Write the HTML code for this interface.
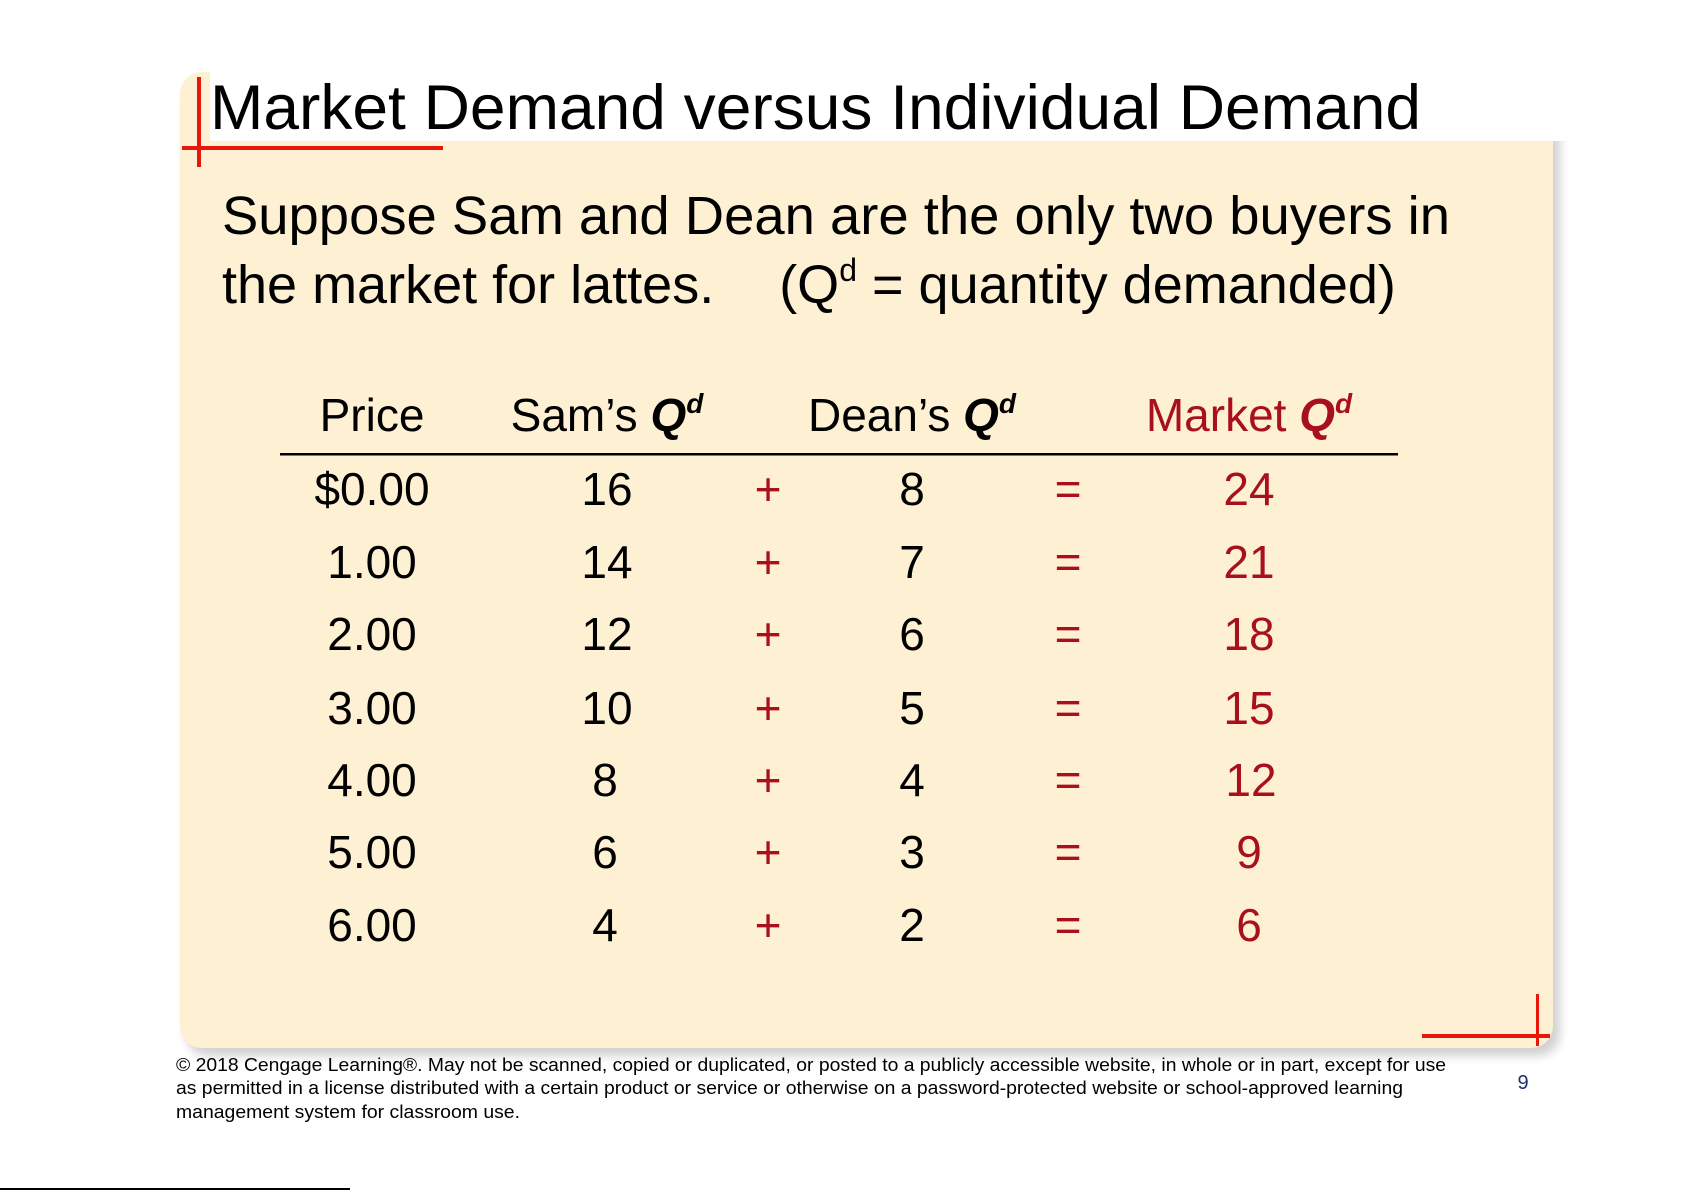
<!DOCTYPE html>
<html><head><meta charset="utf-8"><style>
html,body{margin:0;padding:0;background:#fff;}
svg{display:block;}
text{font-family:"Liberation Sans",Arial,sans-serif;}
</style></head><body>
<svg width="1685" height="1191" viewBox="0 0 1685 1191" xmlns="http://www.w3.org/2000/svg">
<defs>
<filter id="sh" x="-5%" y="-5%" width="115%" height="115%"><feGaussianBlur stdDeviation="5"/></filter>
</defs>
<rect x="186" y="78" width="1374" height="978" rx="22" fill="#000" opacity="0.18" filter="url(#sh)"/>
<rect x="180" y="72" width="1373" height="976" rx="22" fill="#fef1d3"/>
<rect x="210" y="60" width="1360" height="81" fill="#fff"/>
<rect x="197" y="77" width="4" height="90" fill="#e8170c"/>
<rect x="182" y="146" width="261" height="4" fill="#e8170c"/>
<rect x="1536" y="994" width="3" height="52" fill="#e8170c"/>
<rect x="1422" y="1034" width="128" height="4" fill="#e8170c"/>
<text x="210" y="129" font-size="63" textLength="1211" lengthAdjust="spacingAndGlyphs">Market Demand versus Individual Demand</text>
<text x="222" y="234" font-size="54" textLength="1228" lengthAdjust="spacingAndGlyphs">Suppose Sam and Dean are the only two buyers in</text>
<text x="222" y="303" font-size="54">the market for lattes. <tspan dx="50">(Q</tspan><tspan font-size="32" dy="-22">d</tspan><tspan dy="22"> = quantity demanded)</tspan></text>
<g font-size="46" text-anchor="middle">
<text x="372" y="431">Price</text>
<text x="607" y="431">Sam’s <tspan font-weight="bold" font-style="italic">Q</tspan><tspan font-weight="bold" font-style="italic" font-size="28" dy="-18">d</tspan></text>
<text x="912" y="431">Dean’s <tspan font-weight="bold" font-style="italic">Q</tspan><tspan font-weight="bold" font-style="italic" font-size="28" dy="-18">d</tspan></text>
<text x="1249" y="431" fill="#a8101e">Market <tspan font-weight="bold" font-style="italic">Q</tspan><tspan font-weight="bold" font-style="italic" font-size="28" dy="-18">d</tspan></text>
</g>
<rect x="280" y="453" width="1118" height="2.5" fill="#000"/>
<g font-size="46" text-anchor="middle">
<g fill="#000">
<text x="372" y="505">$0.00</text><text x="372" y="578">1.00</text><text x="372" y="650">2.00</text><text x="372" y="724">3.00</text><text x="372" y="796">4.00</text><text x="372" y="868">5.00</text><text x="372" y="941">6.00</text>
<text x="607" y="505">16</text><text x="607" y="578">14</text><text x="607" y="650">12</text><text x="607" y="724">10</text><text x="605" y="796">8</text><text x="605" y="868">6</text><text x="605" y="941">4</text>
<text x="912" y="505">8</text><text x="912" y="578">7</text><text x="912" y="650">6</text><text x="912" y="724">5</text><text x="912" y="796">4</text><text x="912" y="868">3</text><text x="912" y="941">2</text>
</g>
<g fill="#a8101e">
<text x="768" y="505">+</text><text x="768" y="578">+</text><text x="768" y="650">+</text><text x="768" y="724">+</text><text x="768" y="796">+</text><text x="768" y="868">+</text><text x="768" y="941">+</text>
<text x="1068" y="505">=</text><text x="1068" y="578">=</text><text x="1068" y="650">=</text><text x="1068" y="724">=</text><text x="1068" y="796">=</text><text x="1068" y="868">=</text><text x="1068" y="941">=</text>
<text x="1249" y="505">24</text><text x="1249" y="578">21</text><text x="1249" y="650">18</text><text x="1249" y="724">15</text><text x="1251" y="796">12</text><text x="1249" y="868">9</text><text x="1249" y="941">6</text>
</g>
</g>
<g font-size="18.5" fill="#000">
<text x="176" y="1071" textLength="1270" lengthAdjust="spacingAndGlyphs">© 2018 Cengage Learning®. May not be scanned, copied or duplicated, or posted to a publicly accessible website, in whole or in part, except for use</text>
<text x="176" y="1094" textLength="1227" lengthAdjust="spacingAndGlyphs">as permitted in a license distributed with a certain product or service or otherwise on a password-protected website or school-approved learning</text>
<text x="176" y="1118" textLength="344" lengthAdjust="spacingAndGlyphs">management system for classroom use.</text>
</g>
<text x="1523" y="1089" font-size="20" fill="#1f2f6e" text-anchor="middle">9</text>
<rect x="0" y="1188" width="350" height="2" fill="#000"/>
</svg>
</body></html>
